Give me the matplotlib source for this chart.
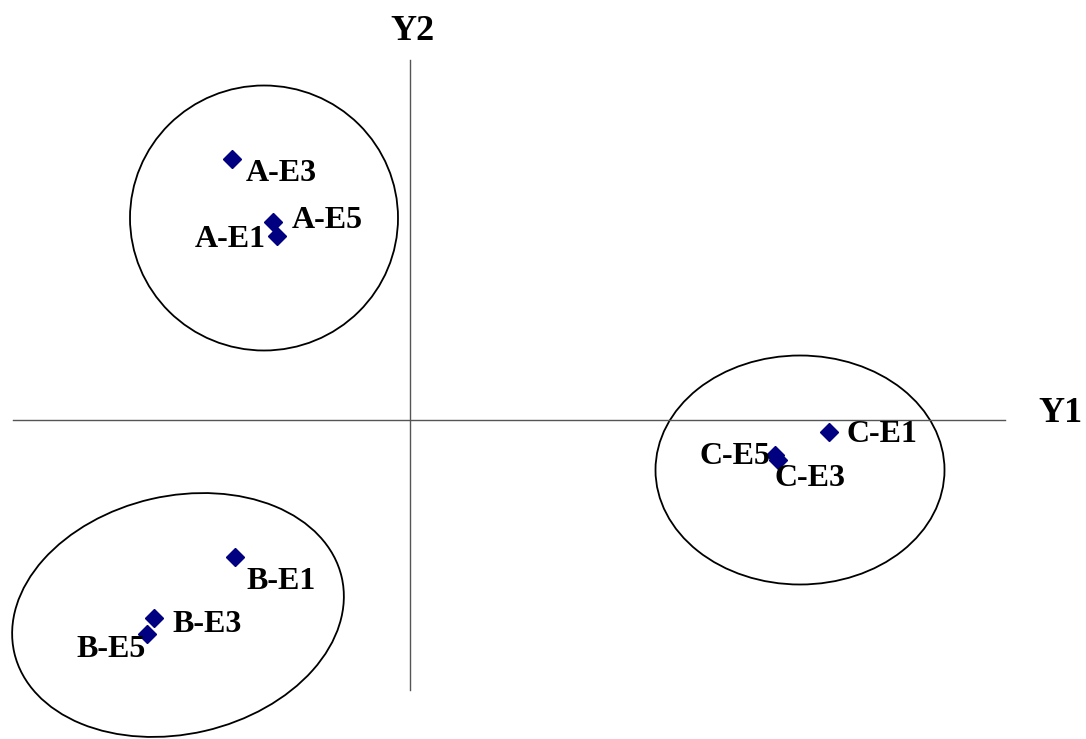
import matplotlib
matplotlib.use("Agg")
import matplotlib.pyplot as plt
from matplotlib.patches import Ellipse

labels = ["A-E3", "A-E5", "A-E1", "B-E1", "B-E3", "B-E5", "C-E1", "C-E5", "C-E3"]
y1 = [-1.78, -1.37, -1.33, -1.75, -2.56, -2.63, 4.19, 3.65, 3.68]
y2 = [2.61, 1.98, 1.84, -1.37, -1.98, -2.14, -0.12, -0.35, -0.40]

# label offsets in pixels (dx, dy, ha), baseline anchored
offsets = [(14, -22, "left"), (19, -6, "left"), (-11, -11, "right"),
           (11, -32, "left"), (18, -14, "left"), (-1, -23, "right"),
           (17, -10, "left"), (-5, -9, "right"), (-3, -26, "left")]

fig = plt.figure(figsize=(10.86, 7.39), dpi=100)
ax = fig.add_axes([0, 0, 1, 1])
ax.set_xlim(-4.10, 6.76)
ax.set_ylim(-3.19, 4.20)
ax.axis("off")

ax.plot([-3.97, 5.95], [0, 0], color="#555555", lw=1)
ax.plot([0, 0], [-2.70, 3.60], color="#555555", lw=1)

for c, w, h, a in [((-1.46, 2.02), 2.68, 2.65, 0),
                   ((3.90, -0.50), 2.89, 2.29, 0),
                   ((-2.32, -1.95), 3.36, 2.38, 13)]:
    ax.add_patch(Ellipse(c, w, h, angle=a, fill=False, ec="black", lw=1.3))

ax.plot(y1, y2, "D", color="#000080", ms=9, ls="none")

font = dict(family="Liberation Serif", weight="bold", fontsize=23)
for lab, x, y, (dx, dy, ha) in zip(labels, y1, y2, offsets):
    ax.annotate(lab, (x, y), xytext=(dx, dy), textcoords="offset pixels",
                ha=ha, va="baseline", **font)

ax.text(0.02, 3.80, "Y2", ha="center", va="baseline", family="Liberation Serif",
        weight="bold", fontsize=26)
ax.text(6.50, -0.02, "Y1", ha="center", va="baseline", family="Liberation Serif",
        weight="bold", fontsize=26)

fig.savefig("out.png", dpi=100)
